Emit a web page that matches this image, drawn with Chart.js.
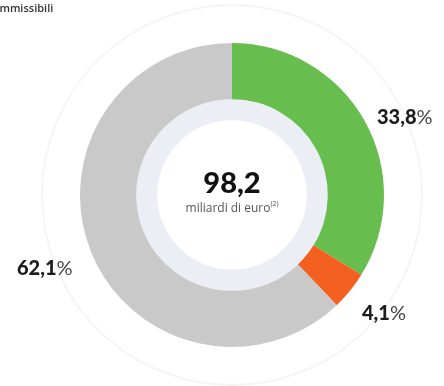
<!DOCTYPE html>
<html>
<head>
<meta charset="utf-8">
<script src="https://cdn.jsdelivr.net/npm/chart.js@4/dist/chart.umd.min.js"></script>
<style>
  html, body { margin: 0; padding: 0; background: #ffffff; }
  #wrap { position: relative; width: 444px; height: 386px; }
</style>
</head>
<body>
<div id="wrap"><canvas id="myChart" width="444" height="386"></canvas></div>
<script>
const categories = ['Verde', 'Arancio', 'Altro'];
const shares = [33.8, 4.1, 62.1];
const shareLabels = ['33,8', '4,1', '62,1'];
const sliceColors = ['#68bd4f', '#f4601f', '#c9c9c9'];
const totalValue = '98,2';
const totalUnit = 'miliardi di euro';

// label anchor: [x of left edge, baseline y]
const labelPos = [[377, 124], [362, 320], [17, 275]];

const ringsPlugin = {
    id: 'rings',
    beforeDatasetsDraw(chart) {
        const meta = chart.getDatasetMeta(0);
        const arc = meta.data[0];
        const cx = arc.x, cy = arc.y;
        const ctx = chart.ctx;
        ctx.save();
        // faint outer ring
        ctx.beginPath();
        ctx.arc(cx, cy, 190, 0, Math.PI * 2);
        ctx.strokeStyle = '#f5f5f5';
        ctx.lineWidth = 2;
        ctx.stroke();
        // lavender inner ring
        ctx.beginPath();
        ctx.arc(cx, cy, arc.innerRadius, 0, Math.PI * 2);
        ctx.fillStyle = '#eceef5';
        ctx.fill();
        ctx.beginPath();
        ctx.arc(cx, cy, arc.innerRadius - 21, 0, Math.PI * 2);
        ctx.fillStyle = '#ffffff';
        ctx.fill();
        ctx.restore();
    },
    afterDatasetsDraw(chart) {
        const meta = chart.getDatasetMeta(0);
        const cx = meta.data[0].x, cy = meta.data[0].y;
        const ctx = chart.ctx;
        ctx.save();
        ctx.textBaseline = 'alphabetic';

        // top caption, clipped at the left edge
        ctx.font = '600 11px "Open Sans", sans-serif';
        ctx.fillStyle = '#333333';
        ctx.textAlign = 'left';
        ctx.fillText('ammissibili', -7, 12);

        // center value
        ctx.textAlign = 'center';
        ctx.fillStyle = '#111111';
        ctx.font = '900 29px Lato, "Open Sans", sans-serif';
        ctx.fillText(totalValue, cx, 193);
        ctx.font = '12px "Open Sans", sans-serif';
        ctx.fillStyle = '#555555';
        const uw = ctx.measureText(totalUnit).width;
        ctx.textAlign = 'left';
        ctx.fillText(totalUnit, cx - uw / 2 - 4, 212);
        ctx.font = '7px "Open Sans", sans-serif';
        ctx.fillText('(2)', cx + uw / 2 - 4, 206);

        // percentage labels
        shareLabels.forEach((txt, i) => {
            const [x, y] = labelPos[i];
            ctx.fillStyle = '#1c1c1c';
            ctx.font = '900 20px Lato, "Open Sans", sans-serif';
            ctx.fillText(txt, x, y);
            const w = ctx.measureText(txt).width;
            ctx.fillStyle = '#444444';
            ctx.font = '20px Lato, "Open Sans", sans-serif';
            ctx.fillText('%', x + w, y);
        });
        ctx.restore();
    }
};

const ctx = document.getElementById('myChart');
const myChart = new Chart(ctx, {
    type: 'doughnut',
    data: {
        labels: categories,
        datasets: [{
            data: shares,
            backgroundColor: sliceColors,
            borderWidth: 0,
            hoverOffset: 0
        }]
    },
    options: {
        responsive: false,
        animation: false,
        cutout: '63%',
        rotation: 0,
        layout: {
            padding: { left: 80, right: 60, top: 43, bottom: 39 }
        },
        plugins: {
            legend: { display: false },
            tooltip: { enabled: false }
        }
    },
    plugins: [ringsPlugin]
});
</script>
</body>
</html>
